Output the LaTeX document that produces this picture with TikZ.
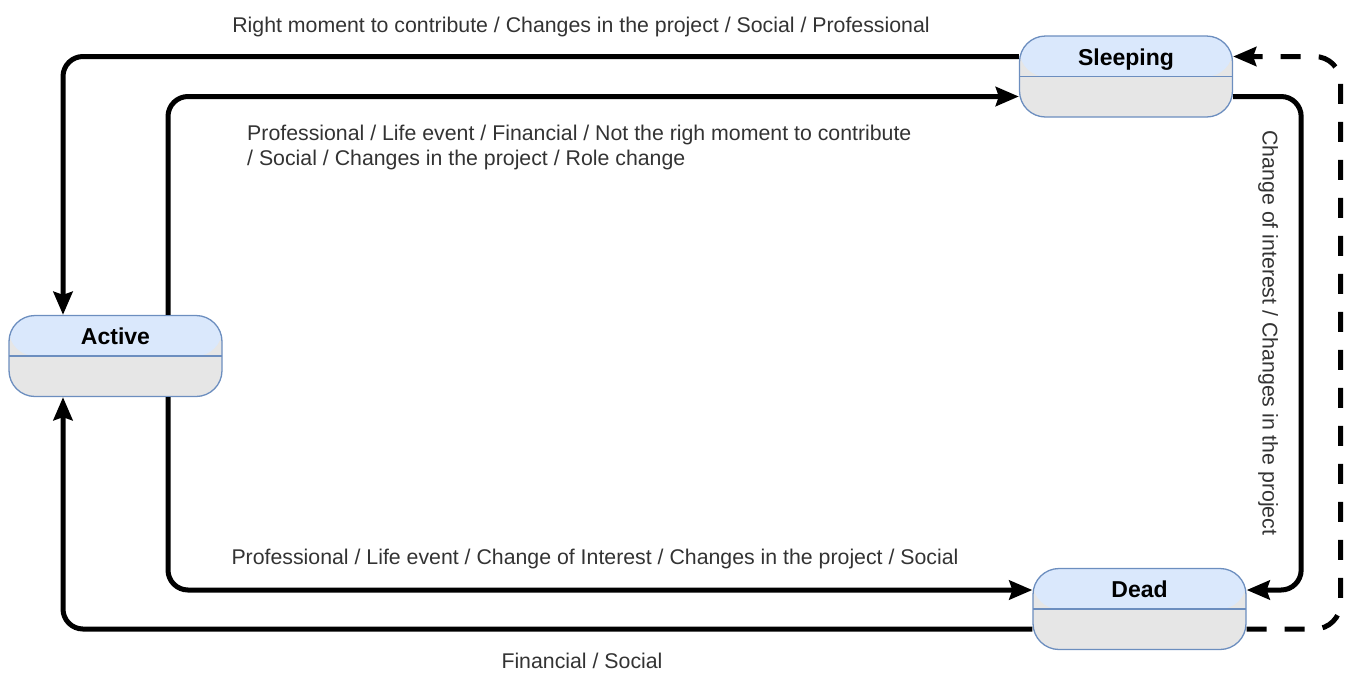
\documentclass[tikz,border=0pt]{standalone}
\usepackage{fontspec}
\setmainfont{Liberation Sans}
\usepackage{tikz}
\usetikzlibrary{arrows.meta}
\definecolor{headBlue}{HTML}{DAE8FC}
\definecolor{bodyGray}{HTML}{E6E6E6}
\definecolor{edgeBlue}{HTML}{6C8EBF}
\definecolor{textGray}{HTML}{333333}

\begin{document}
\begin{tikzpicture}
[x=1pt,y=-1pt,
  stateDecorate/.style={shape=rectangle,draw=edgeBlue,line width=1.3pt,
    fill=bodyGray,rounded corners=26pt,minimum width=213pt,minimum height=81pt,
    inner ysep=0pt,text height=29pt,text depth=52pt,
    font=\fontsize{23}{26}\selectfont\bfseries,
    path picture={
      \fill[headBlue] (path picture bounding box.north west) rectangle (path picture bounding box.east);
      \draw[edgeBlue,line width=1.3pt] (path picture bounding box.west) -- (path picture bounding box.east);
    }},%
  lineDecorate/.style={-{Stealth[length=23pt,width=19pt,inset=3pt]},line width=5pt,rounded corners=20pt},%
  dashDecorate/.style={lineDecorate,dash pattern=on 20pt off 18pt,rounded corners=26pt},%
  labelDecorate/.style={text=textGray,font=\fontsize{21.3}{25}\selectfont,inner sep=0pt}]
\useasboundingbox (0,0) rectangle (1351,673);
%% states
\foreach \nodename/\title/\x/\y in {active/Active/115.5/356, sleep/Sleeping/1126/76.5, dead/Dead/1139.5/609} {
  \node (\nodename) at (\x,\y) [stateDecorate] {\title};
}
%% transitions
\draw[lineDecorate] ([yshift=20pt]sleep.west) -| ([xshift=-52.5pt]active.north);
\draw[lineDecorate] ([xshift=52.5pt]active.north) |- ([yshift=-20pt]sleep.west);
\draw[lineDecorate] ([xshift=52.5pt]active.south) |- ([yshift=19pt]dead.west);
\draw[lineDecorate] ([yshift=-20pt]dead.west) -| ([xshift=-52.5pt]active.south);
\draw[lineDecorate] ([yshift=-20pt]sleep.east) -- ++(68,0) |- ([yshift=19pt]dead.east);
\draw[dashDecorate] ([yshift=-20pt]dead.east) -- ++(94,0) |- ([yshift=20pt]sleep.east);
%% labels
\node (wakeLbl) at (581,27) [labelDecorate] {Right moment to contribute / Changes in the project / Social / Professional};
\node (sleepLbl) at (247,147.5) [labelDecorate,anchor=west,align=left] {Professional / Life event / Financial / Not the righ moment to contribute\\/ Social / Changes in the project / Role change};
\node (dieLbl) at (595,559) [labelDecorate] {Professional / Life event / Change of Interest / Changes in the project / Social};
\node (reviveLbl) at (582,661) [labelDecorate] {Financial / Social};
\node (fadeLbl) at (1268,333) [labelDecorate,rotate=-90] {Change of interest / Changes in the project};
\end{tikzpicture}
\end{document}
